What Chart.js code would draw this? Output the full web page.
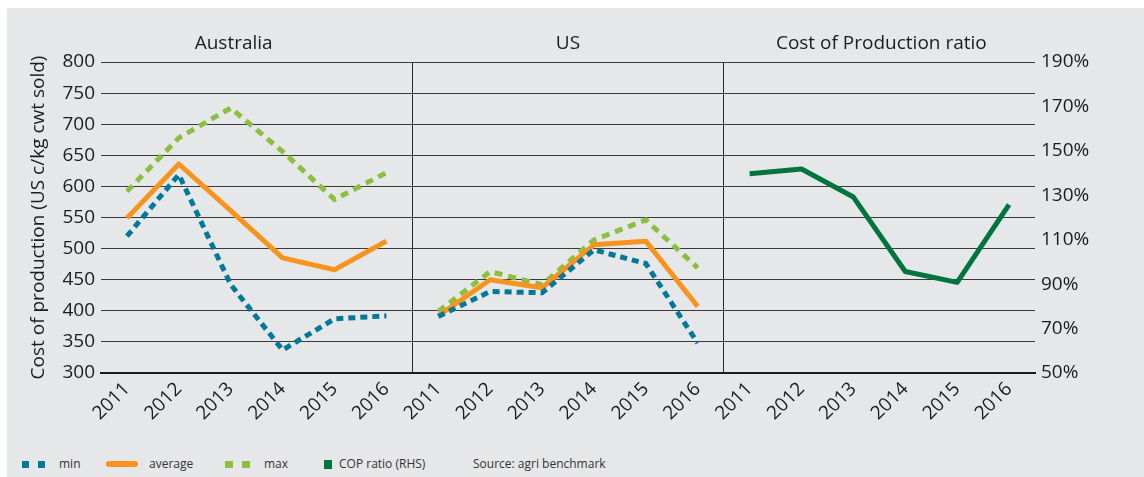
<!DOCTYPE html>
<html>
<head>
<meta charset="utf-8">
<script src="https://cdn.jsdelivr.net/npm/chart.js@4.4.1/dist/chart.umd.min.js"></script>
<style>
  html, body { margin: 0; padding: 0; background: #ffffff; }
  body { width: 1144px; height: 477px; position: relative; overflow: hidden; font-family: "Open Sans", sans-serif; }
  #panel { position: absolute; left: 7px; top: 8px; right: 0; bottom: 0; background: #e6e7e8; }
  #wrap { position: absolute; left: 0; top: 0; width: 1144px; height: 440px; }
  #legend { position: absolute; left: 0; top: 455px; height: 18px; width: 1144px; font-size: 12px; color: #333; }
  #legend .item { position: absolute; top: 0; height: 18px; line-height: 18px; white-space: nowrap; }
  #legend .sw { position: absolute; top: 6px; }
</style>
</head>
<body>
<div id="panel"></div>
<div id="wrap"><canvas id="chart" width="1144" height="440"></canvas></div>
<div id="legend">
  <div class="sw" style="left:22px;width:7px;height:7px;background:#00789a"></div>
  <div class="sw" style="left:38px;width:7px;height:7px;background:#00789a"></div>
  <div class="item" style="left:59px">min</div>
  <div class="sw" style="left:106px;width:32px;height:6px;top:6px;border-radius:3px;background:#f7941e"></div>
  <div class="item" style="left:149px">average</div>
  <div class="sw" style="left:225px;width:8px;height:7px;background:#8cbf3f"></div>
  <div class="sw" style="left:242px;width:8px;height:7px;background:#8cbf3f"></div>
  <div class="item" style="left:264px">max</div>
  <div class="sw" style="left:324px;width:8px;height:9px;top:5px;background:#00743f"></div>
  <div class="item" style="left:339px">COP ratio (RHS)</div>
  <div class="item" style="left:473px">Source: agri benchmark</div>
</div>
<script>
// Years shown in each of the three panels
const years = ['2011', '2012', '2013', '2014', '2015', '2016'];
const panelTitles = ['Australia', 'US', 'Cost of Production ratio'];

// Cost of production, US c/kg cwt sold
const australiaMin = [520, 619, 442, 337, 387, 392];
const australiaAvg = [549, 636, 561, 485, 466, 512];
const australiaMax = [592, 678, 726, 656, 579, 622];
const usMin = [391, 431, 429, 498, 476, 348];
const usAvg = [392, 450, 437, 506, 512, 407];
const usMax = [399, 463, 442, 514, 546, 469];

// Cost of production ratio (%), right-hand axis
const copRatio = [139.7, 141.8, 129.2, 95.7, 90.8, 125.8];

// Left and right axis ticks
const leftTicks = { min: 300, max: 800, step: 50 };
const rightTicks = { min: 50, max: 190, step: 20 };

const nPanels = panelTitles.length;
const labels = [];
for (let p = 0; p < nPanels; p++) labels.push(...years);

// Put a six-year series into one panel of the shared category axis
function inPanel(values, panel) {
  const out = new Array(labels.length).fill(null);
  values.forEach((v, i) => { out[panel * years.length + i] = v; });
  return out;
}

const BLUE = '#00789a', ORANGE = '#f7941e', LIGHTGREEN = '#8cbf3f', DARKGREEN = '#00743f';

function series(label, values, panel, color, dash, order, axis) {
  return {
    label: label,
    data: inPanel(values, panel),
    borderColor: color,
    backgroundColor: color,
    borderWidth: 5,
    borderDash: dash,
    borderCapStyle: 'butt',
    borderJoinStyle: dash.length ? 'miter' : 'round',
    pointRadius: 0,
    pointHoverRadius: 0,
    tension: 0,
    spanGaps: false,
    order: order,
    yAxisID: axis || 'y'
  };
}

const datasets = [
  series('min', australiaMin, 0, BLUE, [7, 5], 0),
  series('average', australiaAvg, 0, ORANGE, [], 1),
  series('max', australiaMax, 0, LIGHTGREEN, [8, 6], 2),
  series('min', usMin, 1, BLUE, [7, 5], 0),
  series('average', usAvg, 1, ORANGE, [], 1),
  series('max', usMax, 1, LIGHTGREEN, [8, 6], 2),
  series('COP ratio (RHS)', copRatio, 2, DARKGREEN, [], 0, 'y1')
];

const FONT = 'Open Sans';
const TEXT = '#1c1c1c';

// Panel headings drawn above the plot area
const panelTitlePlugin = {
  id: 'panelTitles',
  afterDraw(chart) {
    const x = chart.scales.x;
    const ctx = chart.ctx;
    const shift = [-23, 0, 2];
    ctx.save();
    ctx.font = '19px "' + FONT + '"';
    ctx.fillStyle = TEXT;
    ctx.textAlign = 'center';
    ctx.textBaseline = 'middle';
    panelTitles.forEach((t, p) => {
      const a = x.getPixelForValue(p * years.length);
      const b = x.getPixelForValue(p * years.length + years.length - 1);
      ctx.fillText(t, (a + b) / 2 + shift[p], chart.chartArea.top - 18);
    });
    ctx.restore();
  }
};

new Chart(document.getElementById('chart'), {
  type: 'line',
  data: { labels: labels, datasets: datasets },
  plugins: [panelTitlePlugin],
  options: {
    responsive: false,
    animation: false,
    events: [],
    layout: { padding: { top: 62, left: 0, right: 0, bottom: 0 } },
    plugins: { legend: { display: false }, tooltip: { enabled: false } },
    scales: {
      x: {
        type: 'category',
        offset: true,
        afterFit(scale) { scale.height = 67; },
        grid: {
          offset: true,
          drawTicks: false,
          lineWidth: 1,
          color: (c) => (c.index > 0 && c.index < labels.length && c.index % years.length === 0) ? '#2a2a2a' : 'rgba(0,0,0,0)'
        },
        border: { display: true, color: '#1a1a1a', width: 2 },
        ticks: {
          autoSkip: false,
          minRotation: 45,
          maxRotation: 45,
          padding: 5,
          color: TEXT,
          font: { family: FONT, size: 19 }
        }
      },
      y: {
        position: 'left',
        min: leftTicks.min,
        max: leftTicks.max,
        afterFit(scale) { scale.width = 101; },
        grid: { drawTicks: false, color: '#3a3a3a', lineWidth: 1 },
        border: { display: false },
        ticks: {
          stepSize: leftTicks.step,
          padding: 6,
          color: TEXT,
          font: { family: FONT, size: 19 }
        },
        title: {
          display: true,
          text: 'Cost of production (US c/kg cwt sold)',
          color: TEXT,
          font: { family: FONT, size: 19 },
          padding: { top: 27, bottom: 0 }
        }
      },
      y1: {
        position: 'right',
        min: rightTicks.min,
        max: rightTicks.max,
        afterFit(scale) { scale.width = 109; },
        grid: { display: false, drawTicks: false },
        border: { display: false },
        ticks: {
          stepSize: rightTicks.step,
          padding: 6,
          color: TEXT,
          font: { family: FONT, size: 19 },
          callback: (v) => v + '%'
        }
      }
    }
  }
});
</script>
</body>
</html>
